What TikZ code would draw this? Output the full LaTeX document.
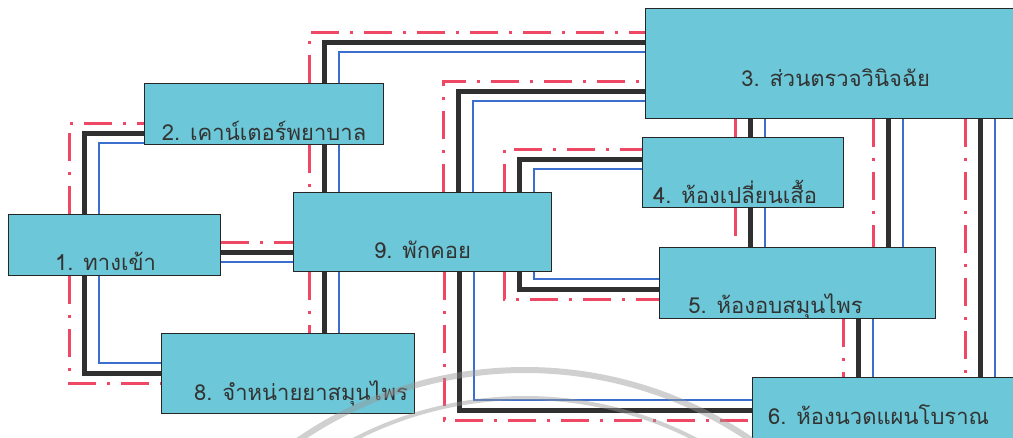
\documentclass[tikz,border=0pt]{standalone}
\usepackage{fontspec}
\newfontfamily\thaifont[Script=Thai]{Loma}
\usetikzlibrary{backgrounds}
\definecolor{roomcyan}{RGB}{108,200,216}
\definecolor{wireblack}{RGB}{48,48,48}
\definecolor{wireblue}{RGB}{60,110,205}
\definecolor{wirered}{RGB}{238,72,100}
\definecolor{stampgray}{RGB}{150,150,150}

\begin{document}
\begin{tikzpicture}[
  x=1pt, y=-1pt,
  room/.style       = {rectangle, draw=black!85, line width=1.2pt, fill=roomcyan,
                       anchor=north west, inner sep=0pt, text=black!80,
                       font=\thaifont\fontsize{22}{26}\selectfont},
  nudge left/.style  = {execute at end node={\hspace*{#1}}},
  nudge right/.style = {execute at begin node={\hspace*{#1}}},
  blkwire/.style = {line width=5pt, wireblack},
  bluwire/.style = {line width=2.5pt, wireblue},
  redwire/.style = {line width=3pt, wirered,
                    dash pattern=on 28pt off 11pt on 3pt off 11pt},
  stamp/.style   = {stampgray, opacity=0.45}
]
\clip (0,0) rectangle (1013,437);

%% Rooms
\node[room, minimum width=212, text height=56, text depth=5, nudge left=18pt]  (entry)   at (8,214)   {1. ทางเข้า};
\node[room, minimum width=239, text height=57, text depth=4]                   (counter) at (144,83)  {2. เคาน์เตอร์พยาบาล};
\node[room, minimum width=380, text height=78, text depth=32]                  (exam)    at (645,8)   {3. ส่วนตรวจวินิจฉัย};
\node[room, minimum width=201, text height=66, text depth=4, nudge left=16pt]  (change)  at (642,137) {4. ห้องเปลี่ยนเสื้อ};
\node[room, minimum width=276, text height=66, text depth=5, nudge left=44pt]  (steam)   at (659,247) {5. ห้องอบสมุนไพร};
\node[room, minimum width=280, text height=47, text depth=33, nudge left=28pt] (massage) at (752,377) {6. ห้องนวดแผนโบราณ};
\node[room, minimum width=253, text height=67, text depth=13, nudge right=26pt] (shop)   at (161,333) {8. จำหน่ายยาสมุนไพร};
\node[room, minimum width=258, text height=66, text depth=13]                  (lounge)  at (293,192) {9. พักคอย};

%% Walkways: red dash-dot outside, black, blue inside
\begin{scope}[on background layer]
\foreach \w/\k in {redwire/-1, blkwire/0, bluwire/1}{
  \pgfmathsetmacro\ox{15*\k}
  \pgfmathsetmacro\oy{10*\k}
  % up, then right
  \draw[\w] (entry.north  -| 84+\ox,0)  |- (counter.west |- 0,133+\oy);
  \draw[\w] (counter.north -| 324+\ox,0) |- (exam.west    |- 0,42+\oy);
  \draw[\w] (lounge.north -| 458+\ox,0) |- (exam.west    |- 0,91+\oy);
  \draw[\w] (lounge.north -| 519+\ox,0) |- (change.west  |- 0,159+\oy);
  % down, then right
  \draw[\w] (entry.south  -| 84+\ox,0)  |- (shop.west    |- 0,373-\oy);
  \draw[\w] (lounge.south -| 519+\ox,0) |- (steam.west   |- 0,289-\oy);
  \draw[\w] (lounge.south -| 459+\ox,0) |- (massage.west |- 0,410-\oy);
  % straight runs
  \draw[\w] (entry.east   |- 0,252+\oy) -- (lounge.west  |- 0,252+\oy);
  \draw[\w] (counter.south -| 324+\ox,0) -- (lounge.north -| 324+\ox,0);
  \draw[\w] (lounge.south -| 324+\ox,0) -- (shop.north   -| 324+\ox,0);
  \draw[\w] (exam.south   -| 750+\ox,0) -- (change.north -| 750+\ox,0);
  \draw[\w] (change.south -| 750+\ox,0) -- (steam.north  -| 750+\ox,0);
  \draw[\w] (exam.south   -| 888+\ox,0) -- (steam.north  -| 888+\ox,0);
  \draw[\w] (steam.south  -| 858+\ox,0) -- (massage.north -| 858+\ox,0);
  \draw[\w] (exam.south   -| 980+\ox,0) -- (massage.north -| 980+\ox,0);
}
\end{scope}

%% Watermark of the scan
\draw[stamp, line width=6pt] (525,770) circle[radius=400pt];
\draw[stamp, line width=4pt] (525,770) circle[radius=372pt];
\end{tikzpicture}
\end{document}
